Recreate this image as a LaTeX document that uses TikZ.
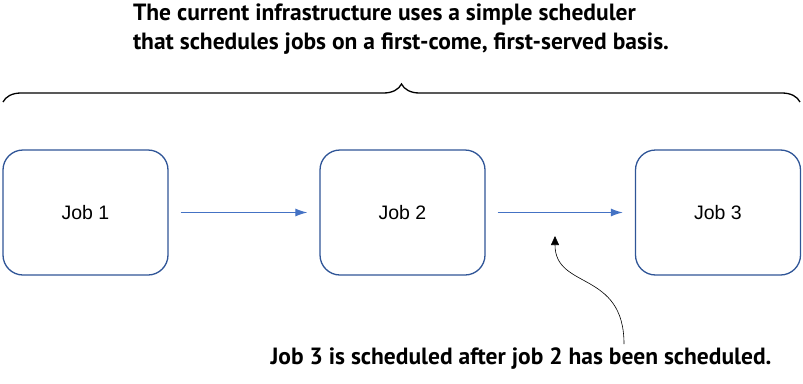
\documentclass[tikz,border=0pt]{standalone}
\usepackage{fontspec}
\setmainfont{Liberation Sans}
\newfontfamily\notefont{PT Sans}
\usetikzlibrary{arrows.meta,positioning,calc,decorations.pathreplacing}
\definecolor{JobBlue}{HTML}{2F5597}
\definecolor{FlowBlue}{HTML}{4472C4}
\tikzset{jobbox/.style={draw=JobBlue,line width=1.3pt,rounded corners=20pt,minimum width=165pt,minimum height=125pt,font=\fontsize{19.5}{23}\selectfont},flow/.style={-{Latex[length=12pt,width=8pt]},FlowBlue,line width=1.1pt},note/.style={font=\notefont\bfseries\fontsize{23.5}{29}\selectfont,align=center},callout/.style={-{Triangle[length=9pt,width=8pt]},black,semithick}}

\begin{document}
\begin{tikzpicture}[x=1pt,y=-1pt]
\useasboundingbox (0,0) rectangle (803,383);
\node[note,align=left] (title) at (401,29) {The current infrastructure uses a simple scheduler\\that schedules jobs on a first-come, first-served basis.};
\draw[line width=1.3pt,decorate,decoration={brace,amplitude=18pt}] (3,102) coordinate (bl) -- (800,102) coordinate (br);
\node[jobbox] (job1) at (85.5,212.5) {Job 1};
\node[jobbox] (job2) at (402.5,212.5) {Job 2};
\node[jobbox] (job3) at (718,212.5) {Job 3};
\draw[flow] ([xshift=12pt]job1.east) -- ([xshift=-12pt]job2.west);
\draw[flow] ([xshift=12pt]job2.east) -- ([xshift=-12pt]job3.west);
\node[note] (remark) at (521,359) {Job 3 is scheduled after job 2 has been scheduled.};
\coordinate (start) at (624,344);
\coordinate (tip) at (555,236);
\draw[callout] (start) .. controls (624,270) and (555,290) .. (tip);
\end{tikzpicture}
\end{document}
